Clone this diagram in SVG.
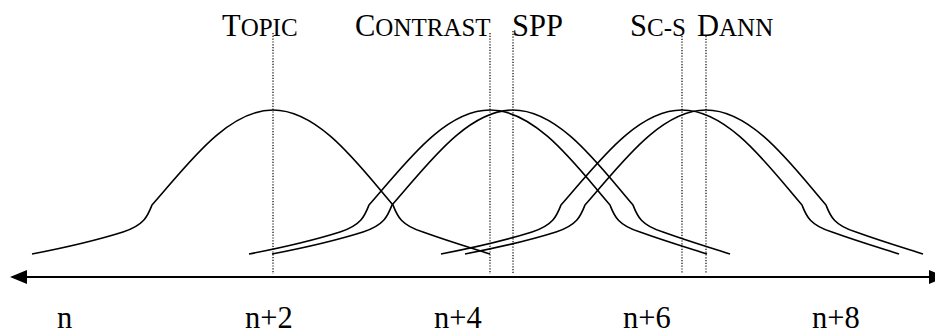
<svg xmlns="http://www.w3.org/2000/svg" xmlns:xlink="http://www.w3.org/1999/xlink" width="935" height="334" viewBox="0 0 935 334">
<style>
.lbl{font-family:"Liberation Serif","Times New Roman",serif;font-size:30.5px;fill:#000}
.sc{font-size:25px}
.curve{fill:none;stroke:#000;stroke-width:1.6}
.dot{stroke:#000;stroke-width:1.2;stroke-dasharray:1.2 1.6;fill:none}
.axis{stroke:#000;stroke-width:2;fill:none}
</style>
<defs>
<path id="bell" class="curve" d="M -241 254 C -215 249 -185 243 -150 232 C -128 225 -125 215 -121 205 C -88 168 -47 110 0 110 C 47 110 88 168 120 205 C 124 215 127 225 150 232 C 175 241 195 247 217 254"/>
</defs>
<rect width="935" height="334" fill="#fff"/>
<g id="connectors">
<line class="axis" x1="22" y1="277" x2="930" y2="277"/>
<polygon points="10,277 27,270 27,284" fill="#000"/>
<polygon points="946,277 929,270 929,284" fill="#000"/>
<line class="dot" x1="273" y1="33" x2="273" y2="274"/>
<line class="dot" x1="490" y1="33" x2="490" y2="274"/>
<line class="dot" x1="513" y1="31" x2="513" y2="274"/>
<line class="dot" x1="682" y1="36" x2="682" y2="274"/>
<line class="dot" x1="706" y1="36" x2="706" y2="274"/>
</g>
<g id="curve-topic"><use xlink:href="#bell" href="#bell" x="273"/></g>
<g id="curve-contrast"><use xlink:href="#bell" href="#bell" x="490"/></g>
<g id="curve-spp"><use xlink:href="#bell" href="#bell" x="513"/></g>
<g id="curve-scs"><use xlink:href="#bell" href="#bell" x="682"/></g>
<g id="curve-dann"><use xlink:href="#bell" href="#bell" x="706"/></g>
<g id="labels-top">
<text class="lbl" x="222" y="36">T<tspan class="sc">OPIC</tspan></text>
<text class="lbl" x="355" y="36">C<tspan class="sc">ONTRAST</tspan></text>
<text class="lbl" x="512" y="36">SPP</text>
<text class="lbl" x="630" y="36">S<tspan class="sc">C-S</tspan></text>
<text class="lbl" x="697" y="36">D<tspan class="sc">ANN</tspan></text>
</g>
<g id="labels-axis">
<text class="lbl" x="57" y="328">n</text>
<text class="lbl" x="245" y="328">n+2</text>
<text class="lbl" x="434" y="328">n+4</text>
<text class="lbl" x="623" y="328">n+6</text>
<text class="lbl" x="812" y="328">n+8</text>
</g>
</svg>
